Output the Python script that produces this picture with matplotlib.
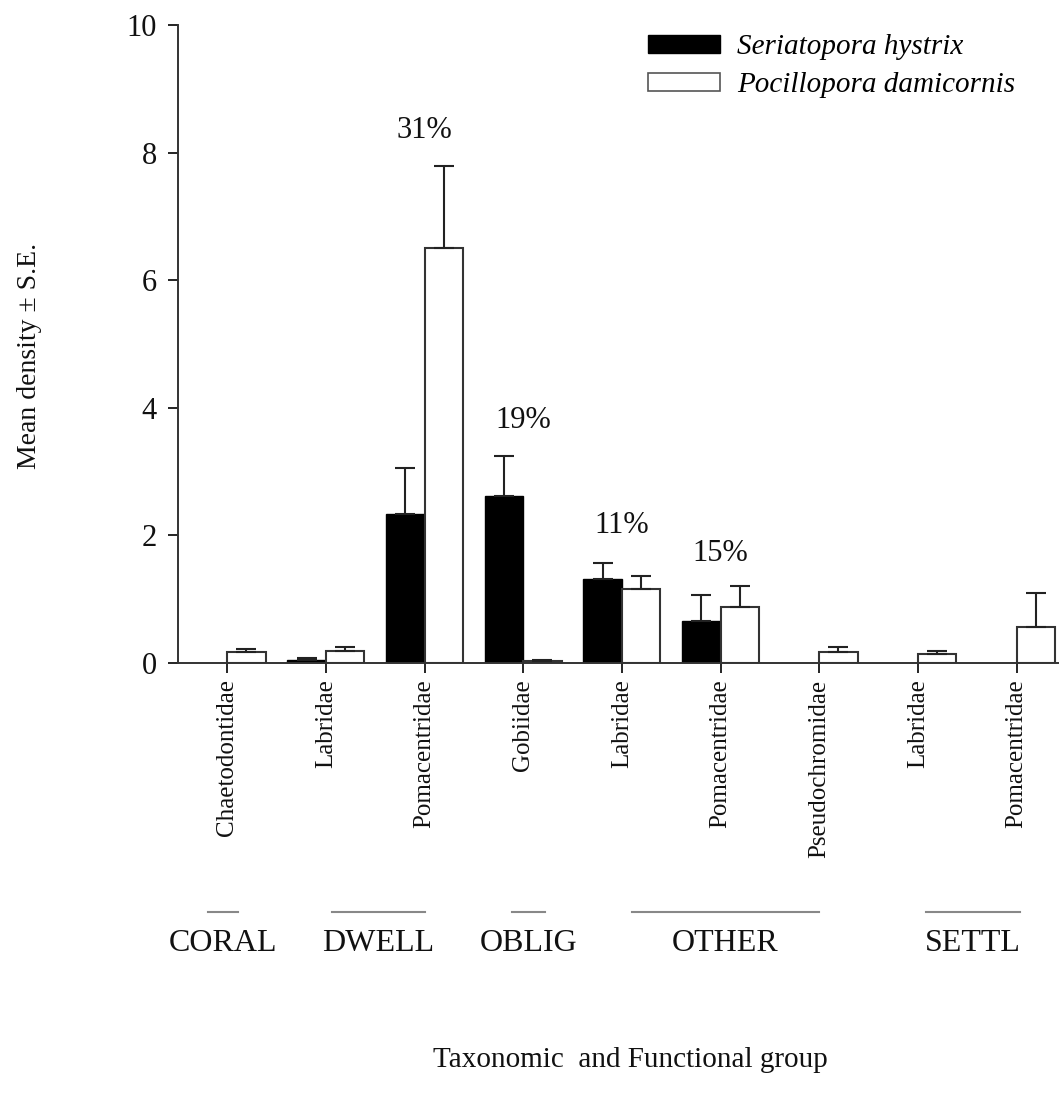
import numpy as np
import matplotlib
matplotlib.use("Agg")
import matplotlib.pyplot as plt
from matplotlib.patches import Patch

plt.rcParams['font.family'] = ['Liberation Serif', 'DejaVu Serif']

# Data
families = ["Chaetodontidae", "Labridae", "Pomacentridae", "Gobiidae", "Labridae",
            "Pomacentridae", "Pseudochromidae", "Labridae", "Pomacentridae"]
seriatopora = [0.0, 0.05, 2.33, 2.62, 1.32, 0.66, 0.0, 0.0, 0.0]
seriatopora_se = [0.0, 0.03, 0.72, 0.62, 0.25, 0.41, 0.0, 0.0, 0.0]
pocillopora = [0.17, 0.19, 6.50, 0.03, 1.16, 0.88, 0.17, 0.14, 0.56]
pocillopora_se = [0.05, 0.06, 1.29, 0.02, 0.20, 0.33, 0.08, 0.04, 0.53]

groups = ["CORAL", "DWELL", "OBLIG", "OTHER", "SETTL"]
group_spans = [(-0.19, 0.11), (1.06, 2.0), (2.89, 3.22), (4.1, 6.0), (7.08, 8.03)]

pct_labels = ["31%", "19%", "11%", "15%"]
pct_index = [2, 3, 4, 5]
pct_y = [8.35, 3.8, 2.16, 1.72]

x = np.arange(len(families))
w = 0.39

fig = plt.figure(figsize=(10.59, 11.01), dpi=100)
ax = fig.add_axes([0.168, 0.398, 0.832, 0.579])

# Black bars left of the tick, white bars right of it
ax.bar(x, seriatopora, width=-w, align='edge', color='black', edgecolor='black', linewidth=1)
ax.bar(x, pocillopora, width=w, align='edge', color='white', edgecolor='#333333', linewidth=1.5)

# Upper error bars only (skip empty ones)
for i in range(len(x)):
    if seriatopora[i] > 0:
        ax.errorbar(x[i] - w / 2, seriatopora[i], yerr=[[0], [seriatopora_se[i]]],
                    fmt='none', ecolor='#222222', elinewidth=1.5, capsize=7, capthick=1.5)
    if pocillopora[i] > 0:
        ax.errorbar(x[i] + w / 2, pocillopora[i], yerr=[[0], [pocillopora_se[i]]],
                    fmt='none', ecolor='#222222', elinewidth=1.5, capsize=7, capthick=1.5)

for lab, i, yy in zip(pct_labels, pct_index, pct_y):
    ax.text(x[i], yy, lab, ha='center', va='center', fontsize=22, color='#111111')

ax.set_xlim(-0.5, 8.43)
ax.set_ylim(0, 10)
ax.set_yticks([0, 2, 4, 6, 8, 10])
ax.set_xticks(x)
ax.set_xticklabels(families, rotation=90, fontsize=18, color='#111111')
ax.tick_params(axis='y', labelsize=22, length=7, width=1.2, direction='out', pad=8, labelcolor='#111111')
ax.tick_params(axis='x', length=7, width=1.2, direction='out', pad=5)

for s in ['top', 'right']:
    ax.spines[s].set_visible(False)
for s in ['left', 'bottom']:
    ax.spines[s].set_linewidth(1.4)
    ax.spines[s].set_color('#333333')

# Functional group lines and labels below the family names
for g, (a, b) in zip(groups, group_spans):
    ax.plot([a, b], [-3.91, -3.91], color='#888888', lw=1.5, clip_on=False)
    ax.text((a + b) / 2, -4.4, g, ha='center', va='center', fontsize=23, color='#111111')

fig.text(0.028, 0.677, "Mean density \u00b1 S.E.", rotation=90, ha='center', va='center',
         fontsize=20, color='#111111')
fig.text(0.595, 0.037, "Taxonomic  and Functional group", ha='center', va='center',
         fontsize=21, color='#111111')

handles = [Patch(facecolor='black', edgecolor='black'),
           Patch(facecolor='white', edgecolor='#555555', linewidth=1.2)]
fig.legend(handles, ["Seriatopora hystrix", "Pocillopora damicornis"],
           loc='upper left', bbox_to_anchor=(0.612, 0.969), frameon=False,
           prop={'style': 'italic', 'size': 21}, handlelength=2.45, handleheight=0.6,
           handletextpad=0.6, labelspacing=0.42, borderpad=0, borderaxespad=0)

fig.savefig("out.png", dpi=100)
